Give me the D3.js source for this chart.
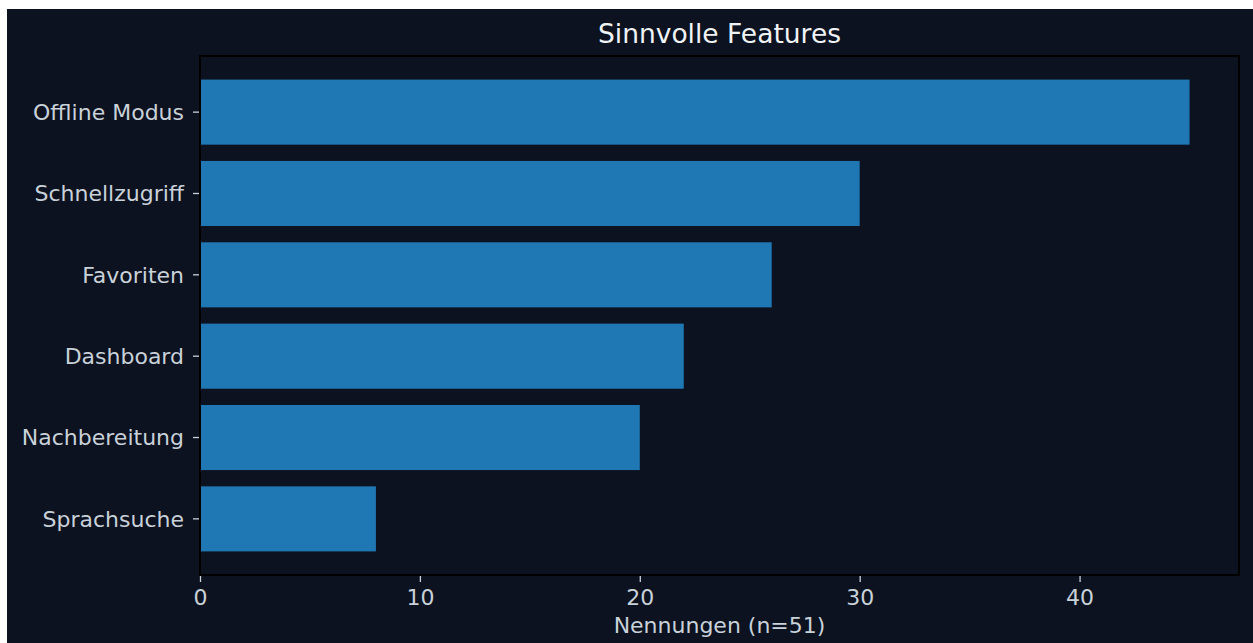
<!DOCTYPE html>
<html>
<head>
<meta charset="utf-8">
<script src="https://cdn.jsdelivr.net/npm/d3@7"></script>
<style>
  body { margin: 0; background: #ffffff; }
  svg { position: absolute; left: 7px; top: 9px; }
  text { font-family: "DejaVu Sans", sans-serif; }
</style>
</head>
<body>
<svg width="1246" height="634"></svg>
<script>
// data
var features = ['Offline Modus', 'Schnellzugriff', 'Favoriten', 'Dashboard', 'Nachbereitung', 'Sprachsuche'];
var counts = [45, 30, 26, 22, 20, 8];
var xTicks = [0, 10, 20, 30, 40];

var svg = d3.select('svg');
var W = 1246, H = 634;
// axes box in svg coords (page minus offset)
var boxL = 193, boxR = 1232, boxT = 47, boxB = 566;

svg.append('rect')
    .attr('width', W)
    .attr('height', H)
    .style('fill', '#0c1220');

var x = d3.scaleLinear()
    .domain([0, d3.max(counts) * 1.05])
    .range([boxL, boxR]);

// matplotlib style: bars of 0.8 with 5% margins
var n = features.length;
var yIdx = d3.scaleLinear()
    .domain([-0.4 - 0.05 * (n - 0.2), n - 0.6 + 0.05 * (n - 0.2)])
    .range([boxT, boxB]);

var bars = features.map(function(f, i) { return {name: f, value: counts[i], i: i}; });

svg.selectAll('.bar')
    .data(bars)
    .enter().append('rect')
    .attr('class', 'bar')
    .attr('x', x(0))
    .attr('y', function(d) { return yIdx(d.i - 0.4); })
    .attr('width', function(d) { return x(d.value) - x(0); })
    .attr('height', function(d) { return yIdx(d.i + 0.4) - yIdx(d.i - 0.4); })
    .style('fill', '#1f77b4');

// frame
svg.append('rect')
    .attr('x', boxL)
    .attr('y', boxT)
    .attr('width', boxR - boxL)
    .attr('height', boxB - boxT)
    .style('fill', 'none')
    .style('stroke', '#000000')
    .style('stroke-width', 2);

// x axis
var xAxis = svg.append('g')
    .attr('transform', 'translate(0,' + (boxB + 1) + ')')
    .call(d3.axisBottom(x).tickValues(xTicks).tickSize(6).tickPadding(7));
xAxis.select('.domain').remove();
xAxis.selectAll('line').style('stroke', '#c9d1d9').style('stroke-width', 1.3);
xAxis.selectAll('text')
    .style('fill', '#c9d1d9')
    .style('font-size', '22px')
    .style('font-family', '"DejaVu Sans", sans-serif');

// y axis
var yAxis = svg.append('g')
    .attr('transform', 'translate(' + (boxL - 1) + ',0)');
yAxis.selectAll('line')
    .data(bars)
    .enter().append('line')
    .attr('x1', -6)
    .attr('x2', 0)
    .attr('y1', function(d) { return yIdx(d.i); })
    .attr('y2', function(d) { return yIdx(d.i); })
    .style('stroke', '#c9d1d9')
    .style('stroke-width', 1.3);
yAxis.selectAll('text')
    .data(bars)
    .enter().append('text')
    .attr('x', -15)
    .attr('y', function(d) { return yIdx(d.i); })
    .attr('dy', '0.36em')
    .attr('text-anchor', 'end')
    .style('fill', '#c9d1d9')
    .style('font-size', '22px')
    .text(function(d) { return d.name; });

// labels
svg.append('text')
    .attr('x', (boxL + boxR) / 2)
    .attr('y', 624)
    .attr('text-anchor', 'middle')
    .style('fill', '#c9d1d9')
    .style('font-size', '22px')
    .text('Nennungen (n=51)');

svg.append('text')
    .attr('x', (boxL + boxR) / 2)
    .attr('y', 34)
    .attr('text-anchor', 'middle')
    .style('fill', '#f0f3f6')
    .style('font-size', '26.5px')
    .text('Sinnvolle Features');
</script>
</body>
</html>
